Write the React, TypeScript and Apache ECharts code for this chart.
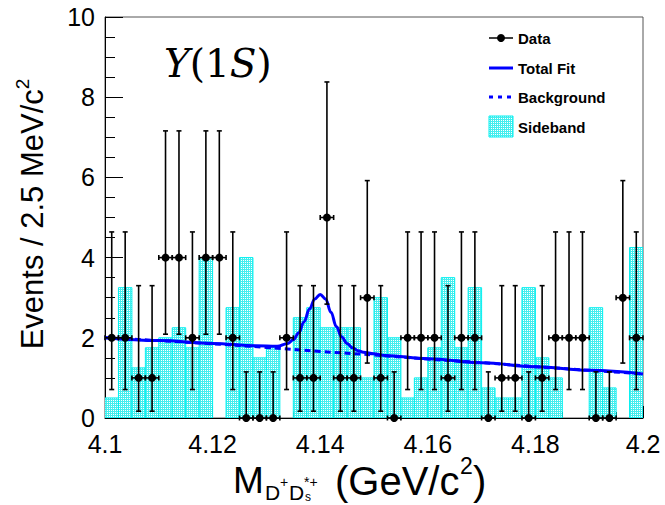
import React, { useEffect, useRef } from "react";
import * as echarts from "echarts";

// Bin centres of the M(D+ Ds*+) histogram (GeV/c^2), 2.5 MeV bins
const binCenters = [
  4.10125, 4.10375, 4.10625, 4.10875, 4.11125, 4.11375, 4.11625, 4.11875,
  4.12125, 4.12375, 4.12625, 4.12875, 4.13125, 4.13375, 4.13625, 4.13875,
  4.14125, 4.14375, 4.14625, 4.14875, 4.15125, 4.15375, 4.15625, 4.15875,
  4.16125, 4.16375, 4.16625, 4.16875, 4.17125, 4.17375, 4.17625, 4.17875,
  4.18125, 4.18375, 4.18625, 4.18875, 4.19125, 4.19375, 4.19625, 4.19875,
];
const halfBin = 0.00125;

// Data: events per bin
const dataCounts = [
  2, 2, 1, 1, 4, 4, 2, 4, 4, 2, 0, 0, 0, 2, 1, 1, 5, 1, 1, 3,
  1, 0, 2, 2, 2, 1, 2, 2, 0, 1, 1, 0, 1, 2, 2, 2, 0, 0, 3, 2,
];
// Error-bar ends, indexed by the count
const errLowByCount = [0, 0.17, 0.71, 1.37, 2.09, 2.84];
const errHighByCount = [1.15, 3.3, 4.64, 5.92, 7.16, 8.38];

// Sideband histogram (scaled)
const sideband = [
  0.5, 3.25, 1.25, 1.75, 2.0, 2.25, 1.75, 4.0, 0, 2.75,
  4.0, 1.5, 1.75, 0, 2.5, 2.75, 2.25, 2.25, 2.25, 1.0,
  3.0, 2.0, 0.5, 1.0, 1.75, 3.5, 1.75, 3.25, 0.75, 0.5,
  0.5, 3.25, 1.5, 1.0, 0, 0, 2.75, 0.75, 0, 4.25,
];

// Total fit curve
const fitX = [
  4.1, 4.11, 4.12, 4.128, 4.132, 4.134, 4.135, 4.136, 4.137, 4.138, 4.139,
  4.14, 4.141, 4.142, 4.143, 4.144, 4.145, 4.146, 4.147, 4.148, 4.15, 4.152,
  4.16, 4.17, 4.18, 4.19, 4.2,
];
const fitY = [
  2.0, 1.93, 1.86, 1.8, 1.79, 1.86, 1.95, 2.12, 2.4, 2.72, 2.97,
  3.08, 2.97, 2.64, 2.28, 2.02, 1.86, 1.75, 1.68, 1.64, 1.6, 1.56,
  1.48, 1.38, 1.28, 1.19, 1.1,
];

// Background curve
const bgX = [4.1, 4.11, 4.12, 4.13, 4.14, 4.15, 4.16, 4.17, 4.18, 4.19, 4.2];
const bgY = [2.0, 1.93, 1.85, 1.76, 1.66, 1.57, 1.47, 1.38, 1.28, 1.19, 1.1];

const FONT = "'Liberation Sans', Arial, Helvetica, sans-serif";
const BLUE = "#0000ff";
const CYAN_FLAT = "#74f2f2";
const CYAN_EDGE = "#00f0f0";

function makePattern(): any {
  try {
    const c = document.createElement("canvas");
    c.width = 2;
    c.height = 2;
    const g = c.getContext("2d");
    if (!g) return CYAN_FLAT;
    g.fillStyle = "#45eeee";
    g.fillRect(0, 0, 2, 2);
    g.fillStyle = "#ffffff";
    g.fillRect(1, 0, 1, 1);
    return { image: c, repeat: "repeat", imageWidth: 2, imageHeight: 2 };
  } catch (e) {
    return CYAN_FLAT;
  }
}

export default function App() {
  const ref = useRef<HTMLDivElement>(null);

  useEffect(() => {
    if (!ref.current) return;
    const chart = echarts.init(ref.current, undefined, { renderer: "svg" });
    const fillPattern = makePattern();

    const sideData = binCenters.map((c, i) => [c, sideband[i]]);
    const pointData = binCenters.map((c, i) => [
      c,
      dataCounts[i],
      errLowByCount[dataCounts[i]],
      errHighByCount[dataCounts[i]],
    ]);

    const txt = (text: string, x: number, y: number, size: number) => ({
      type: "text",
      x,
      y,
      style: { text, font: `${size}px ${FONT}`, fill: "#000", verticalAlign: "middle", align: "left" },
    });

    const option: any = {
      animation: false,
      grid: {
        left: 105,
        top: 17,
        width: 538,
        height: 401,
        show: true,
        borderColor: "#555",
        borderWidth: 1,
      },
      xAxis: {
        type: "value",
        min: 4.1,
        max: 4.2,
        interval: 0.02,
        axisLine: { show: true, onZero: false, lineStyle: { color: "#000", width: 1 } },
        axisTick: { show: true, inside: true, length: 12, lineStyle: { color: "#000" } },
        minorTick: { show: true, splitNumber: 4, length: 6, lineStyle: { color: "#000" } },
        splitLine: { show: false },
        minorSplitLine: { show: false },
        axisLabel: {
          fontSize: 25,
          color: "#000",
          margin: 13,
          fontFamily: FONT,
          showMinLabel: true,
          showMaxLabel: true,
          formatter: (v: number) => String(+v.toFixed(2)),
        },
      },
      yAxis: {
        type: "value",
        min: 0,
        max: 10,
        interval: 2,
        axisLine: { show: true, lineStyle: { color: "#000", width: 1 } },
        axisTick: { show: true, inside: true, length: 18, lineStyle: { color: "#000" } },
        minorTick: { show: true, splitNumber: 4, length: 10, lineStyle: { color: "#000" } },
        splitLine: { show: false },
        minorSplitLine: { show: false },
        axisLabel: { fontSize: 25, color: "#000", margin: 10, fontFamily: FONT },
      },
      series: [
        {
          name: "Sideband",
          type: "custom",
          z: 1,
          clip: true,
          data: sideData,
          renderItem: (params: any, api: any) => {
            const v = api.value(1);
            if (!v) return { type: "group", children: [] };
            const p0 = api.coord([api.value(0) - halfBin, v]);
            const p1 = api.coord([api.value(0) + halfBin, 0]);
            return {
              type: "rect",
              shape: { x: p0[0], y: p0[1], width: p1[0] - p0[0], height: p1[1] - p0[1] },
              style: { fill: fillPattern, stroke: CYAN_EDGE, lineWidth: 1 },
            };
          },
        },
        {
          name: "Background",
          type: "line",
          z: 3,
          data: bgX.map((x, i) => [x, bgY[i]]),
          showSymbol: false,
          smooth: true,
          lineStyle: { color: BLUE, width: 3, type: [6, 4] },
        },
        {
          name: "Total Fit",
          type: "line",
          z: 4,
          data: fitX.map((x, i) => [x, fitY[i]]),
          showSymbol: false,
          smooth: 0.4,
          smoothMonotone: "x",
          lineStyle: { color: BLUE, width: 3 },
        },
        {
          name: "Data",
          type: "custom",
          z: 5,
          clip: false,
          data: pointData,
          renderItem: (params: any, api: any) => {
            const x = api.value(0);
            const y = api.value(1);
            const lo = api.value(2);
            const hi = api.value(3);
            const c = api.coord([x, y]);
            const pLo = api.coord([x, lo]);
            const pHi = api.coord([x, hi]);
            const pL = api.coord([x - halfBin, y]);
            const pR = api.coord([x + halfBin, y]);
            const st = { stroke: "#000", lineWidth: 1.6 };
            const cap = 2.5;
            return {
              type: "group",
              children: [
                { type: "line", shape: { x1: c[0], y1: pLo[1], x2: c[0], y2: pHi[1] }, style: st },
                { type: "line", shape: { x1: c[0] - cap, y1: pHi[1], x2: c[0] + cap, y2: pHi[1] }, style: st },
                { type: "line", shape: { x1: c[0] - cap, y1: pLo[1], x2: c[0] + cap, y2: pLo[1] }, style: st },
                { type: "line", shape: { x1: pL[0], y1: c[1], x2: pR[0], y2: c[1] }, style: st },
                { type: "line", shape: { x1: pL[0], y1: c[1] - cap, x2: pL[0], y2: c[1] + cap }, style: st },
                { type: "line", shape: { x1: pR[0], y1: c[1] - cap, x2: pR[0], y2: c[1] + cap }, style: st },
                { type: "circle", shape: { cx: c[0], cy: c[1], r: 4 }, style: { fill: "#000" } },
              ],
            };
          },
        },
      ],
      graphic: [
        // Upsilon(1S) label
        {
          type: "text",
          x: 164,
          y: 63,
          style: {
            text: "{i|Υ}{r|(1}{i|S}{r|)}",
            verticalAlign: "middle",
            rich: {
              i: { fontFamily: "'DejaVu Serif', serif", fontStyle: "italic", fontSize: 39, fill: "#000" },
              r: { fontFamily: "'DejaVu Serif', serif", fontSize: 39, fill: "#000" },
            },
          },
        },
        // Legend
        { type: "line", shape: { x1: 489, y1: 38, x2: 513, y2: 38 }, style: { stroke: "#000", lineWidth: 1.5 } },
        { type: "circle", shape: { cx: 501, cy: 38, r: 4 }, style: { fill: "#000" } },
        { type: "text", x: 518, y: 38, style: { text: "Data", font: `bold 15px ${FONT}`, fill: "#000", verticalAlign: "middle" } },
        { type: "line", shape: { x1: 489, y1: 68, x2: 513, y2: 68 }, style: { stroke: BLUE, lineWidth: 3 } },
        { type: "text", x: 518, y: 68, style: { text: "Total Fit", font: `bold 15px ${FONT}`, fill: "#000", verticalAlign: "middle" } },
        { type: "line", shape: { x1: 489, y1: 97, x2: 513, y2: 97 }, style: { stroke: BLUE, lineWidth: 3, lineDash: [4, 5] } },
        { type: "text", x: 518, y: 97, style: { text: "Background", font: `bold 15px ${FONT}`, fill: "#000", verticalAlign: "middle" } },
        { type: "rect", shape: { x: 489, y: 116, width: 24, height: 21 }, style: { fill: fillPattern, stroke: CYAN_EDGE, lineWidth: 1 } },
        { type: "text", x: 518, y: 127, style: { text: "Sideband", font: `bold 15px ${FONT}`, fill: "#000", verticalAlign: "middle" } },
        // Y axis title
        {
          type: "text",
          x: 32,
          y: 214,
          rotation: Math.PI / 2,
          style: {
            text: "{a|Events / 2.5 MeV/c}{b|2}",
            align: "center",
            verticalAlign: "middle",
            rich: {
              a: { fontFamily: FONT, fontSize: 31, fill: "#000", lineHeight: 38 },
              b: { fontFamily: FONT, fontSize: 19, fill: "#000", verticalAlign: "top", lineHeight: 38 },
            },
          },
        },
        // X axis title pieces
        txt("M", 233, 480, 37),
        txt("D", 265, 492, 21),
        txt("+", 280, 482, 14),
        txt("D", 289, 492, 21),
        txt("*+", 304, 482, 14),
        txt("s", 305, 497, 12),
        txt("(GeV/c", 335, 481, 40),
        txt("2", 460, 466, 23),
        txt(")", 473, 481, 40),
      ],
    };

    chart.setOption(option);
    return () => chart.dispose();
  }, []);

  return (
    <div
      ref={ref}
      style={{ position: "absolute", left: 0, top: 0, width: 665, height: 505, background: "#fff" }}
    />
  );
}
